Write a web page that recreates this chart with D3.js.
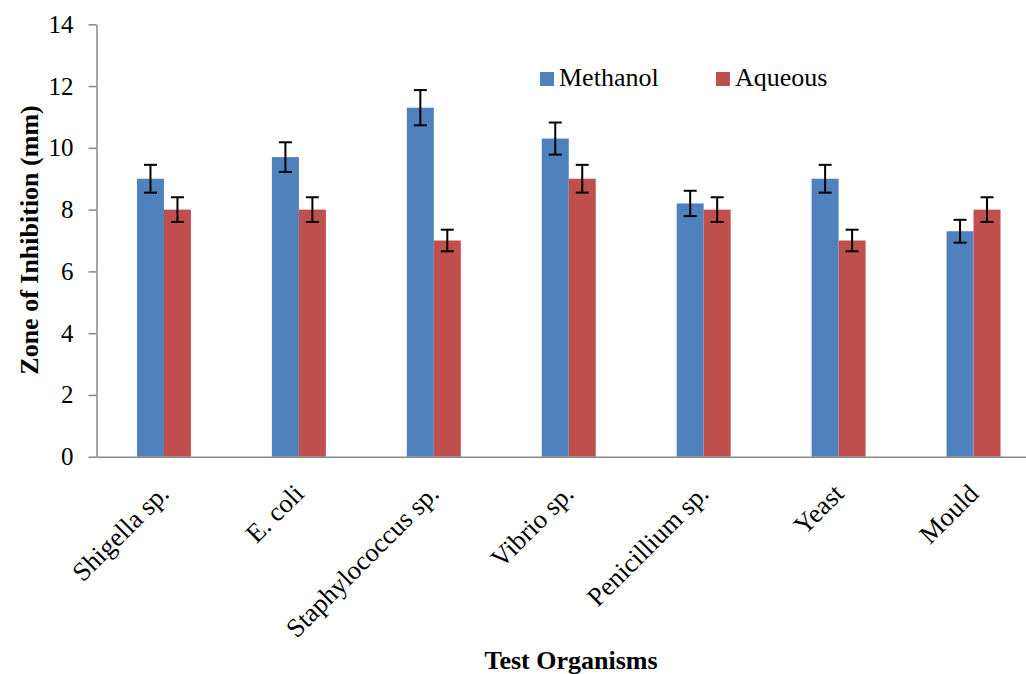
<!DOCTYPE html>
<html>
<head>
<meta charset="utf-8">
<script src="https://cdn.jsdelivr.net/npm/d3@7"></script>
<style>
    body { margin: 0; background: #fff; }
    svg text { font-family: "Liberation Serif", "Times New Roman", "DejaVu Serif", serif; }
</style>
</head>
<body>
<div id="chart"></div>
<script>
const organisms = ["Shigella sp.", "E. coli", "Staphylococcus sp.", "Vibrio sp.", "Penicillium sp.", "Yeast", "Mould"];
const seriesNames = ["Methanol", "Aqueous"];
const methanol = [9, 9.7, 11.3, 10.3, 8.2, 9, 7.3];
const aqueous = [8, 8, 7, 9, 8, 7, 8];
const methanolErr = [0.45, 0.48, 0.57, 0.52, 0.41, 0.45, 0.37];
const aqueousErr = [0.4, 0.4, 0.35, 0.45, 0.4, 0.35, 0.4];
const yTicks = [0, 2, 4, 6, 8, 10, 12, 14];

const colors = { Methanol: "#4F81BD", Aqueous: "#C0504D" };

const wSvg = 1026;
const hSvg = 674;
const plotLeft = 96.5;
const plotRight = 1041;   // plot runs past the right edge, as in the picture
const plotTop = 24.3;
const plotBottom = 456.7;

const svg = d3.select("#chart").append("svg")
    .attr("width", wSvg)
    .attr("height", hSvg);

const x = d3.scaleBand()
    .domain(organisms)
    .range([plotLeft, plotRight]);

const xInner = d3.scaleBand()
    .domain(seriesNames)
    .range([0, x.bandwidth()])
    .paddingInner(0)
    .paddingOuter(1.5);

const y = d3.scaleLinear()
    .domain([0, 14])
    .range([plotBottom, plotTop]);

const rows = organisms.map((name, i) => ({
    name,
    values: [
        { key: "Methanol", value: methanol[i], err: methanolErr[i] },
        { key: "Aqueous", value: aqueous[i], err: aqueousErr[i] }
    ]
}));

// bars
const groups = svg.append("g").selectAll("g")
    .data(rows)
    .enter()
    .append("g")
        .attr("transform", d => `translate(${x(d.name)},0)`);

groups.selectAll("rect")
    .data(d => d.values)
    .enter()
    .append("rect")
        .attr("x", d => xInner(d.key))
        .attr("y", d => y(d.value))
        .attr("width", xInner.bandwidth())
        .attr("height", d => y(0) - y(d.value))
        .attr("fill", d => colors[d.key]);

// error bars
const capW = 13;
const errs = groups.selectAll("g.err")
    .data(d => d.values)
    .enter()
    .append("g")
        .classed("err", true)
        .attr("stroke", "#000")
        .attr("stroke-width", 2);

errs.append("line")
    .attr("x1", d => xInner(d.key) + xInner.bandwidth() / 2)
    .attr("x2", d => xInner(d.key) + xInner.bandwidth() / 2)
    .attr("y1", d => y(d.value + d.err))
    .attr("y2", d => y(d.value - d.err));

errs.selectAll("line.cap")
    .data(d => [d.value + d.err, d.value - d.err].map(v => ({ key: d.key, v })))
    .enter()
    .append("line")
        .classed("cap", true)
        .attr("x1", d => xInner(d.key) + xInner.bandwidth() / 2 - capW / 2)
        .attr("x2", d => xInner(d.key) + xInner.bandwidth() / 2 + capW / 2)
        .attr("y1", d => y(d.v))
        .attr("y2", d => y(d.v));

// y axis
const yAxis = svg.append("g")
    .attr("transform", `translate(${plotLeft},0)`)
    .call(d3.axisLeft(y).tickValues(yTicks).tickSize(8).tickSizeOuter(0).tickPadding(15));

yAxis.selectAll("path, line").attr("stroke", "#888").attr("stroke-width", 1.5);
yAxis.selectAll("text")
    .style("font-size", "25px")
    .attr("fill", "#000");

// x axis
const xAxis = svg.append("g")
    .attr("transform", `translate(0,${plotBottom})`)
    .call(d3.axisBottom(x).tickSize(0).tickSizeOuter(0));

xAxis.select("path").attr("stroke", "#888").attr("stroke-width", 1.5);
xAxis.selectAll("text")
    .style("font-size", "26.5px")
    .attr("fill", "#000")
    .attr("text-anchor", "end")
    .attr("x", 0)
    .attr("y", 0)
    .attr("dy", "0.35em")
    .attr("transform", "translate(0,32) rotate(-45)");

// axis titles
svg.append("text")
    .attr("transform", `translate(38,240) rotate(-90)`)
    .attr("text-anchor", "middle")
    .style("font-size", "26px")
    .style("font-weight", "bold")
    .text("Zone of Inhibition (mm)");

svg.append("text")
    .attr("x", 571)
    .attr("y", 669)
    .attr("text-anchor", "middle")
    .style("font-size", "26px")
    .style("font-weight", "bold")
    .text("Test Organisms");

// legend
const legendPos = [540, 716];
const legend = svg.append("g").selectAll("g")
    .data(seriesNames)
    .enter()
    .append("g")
        .attr("transform", (d, i) => `translate(${legendPos[i]},72)`);

legend.append("rect")
    .attr("width", 14)
    .attr("height", 14)
    .attr("fill", d => colors[d]);

legend.append("text")
    .attr("x", 19)
    .attr("y", 14)
    .style("font-size", "26px")
    .text(d => d);
</script>
</body>
</html>
